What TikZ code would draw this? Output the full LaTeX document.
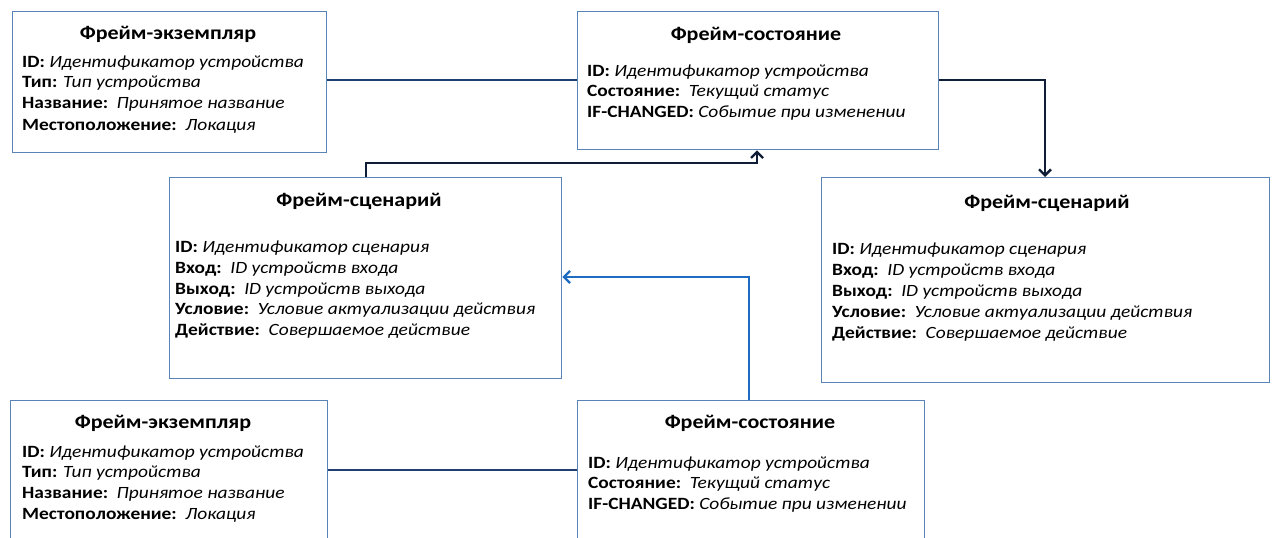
\documentclass[tikz,border=0pt]{standalone}
\usepackage{fontspec}
\setmainfont{Carlito}[FakeStretch=1.13]
\usetikzlibrary{arrows.meta}
\definecolor{boxc}{HTML}{5A84B8}
\definecolor{navy}{HTML}{0F1E36}
\definecolor{lblue}{HTML}{1E6CC0}
\definecolor{mnavy}{HTML}{1F3F73}
\begin{document}
\begin{tikzpicture}[x=1pt,y=-1pt,
 frame/.style={draw=boxc, line width=1.3pt, fill=white, anchor=north west, inner sep=0},
 ttl/.style={font=\fontsize{19.5}{22}\selectfont\bfseries, inner sep=0},
 ln/.style={font=\fontsize{17.2}{20}\selectfont, anchor=mid west, inner sep=0, yshift=-3pt},
 conn/.style={line width=2.8pt, draw=navy},
 arr/.style={-{Straight Barb[length=6pt,width=12pt,line width=2.4pt]}}
]
\useasboundingbox (0,0) rectangle (1275,538);
\clip (0,0) rectangle (1275,538);
\fill[white] (0,0) rectangle (1275,538);

% boxes
\node[frame, minimum width=314pt, minimum height=141pt] (A) at (12,11) {};
\node[frame, minimum width=361pt, minimum height=138pt] (B) at (577,11) {};
\node[frame, minimum width=392pt, minimum height=201pt] (C) at (169,177) {};
\node[frame, minimum width=448pt, minimum height=205pt] (D) at (821,177) {};
\node[frame, minimum width=317pt, minimum height=200pt] (E) at (10,400) {};
\node[frame, minimum width=347pt, minimum height=200pt] (F) at (577,400) {};

% box A text
\node[ttl] (At) at (168,34) {Фрейм-экземпляр};
\node[ln] (A1) at (22,62) {\textbf{ID:} \textit{Идентификатор устройства}};
\node[ln] (A2) at (22,82) {\textbf{Тип:} \textit{Тип устройства}};
\node[ln] (A3) at (22,103) {\textbf{Название:}\enspace\textit{Принятое название}};
\node[ln] (A4) at (22,125) {\textbf{Местоположение:}\enspace\textit{Локация}};

% box B text
\node[ttl] (Bt) at (756,35) {Фрейм-состояние};
\node[ln] (B1) at (587,71) {\textbf{ID:} \textit{Идентификатор устройства}};
\node[ln] (B2) at (587,91) {\textbf{Состояние:}\enspace\textit{Текущий статус}};
\node[ln] (B3) at (587,112) {\textbf{IF-CHANGED:} \textit{Событие при изменении}};

% box C text
\node[ttl] (Ct) at (359,201) {Фрейм-сценарий};
\node[ln] (C1) at (175,247) {\textbf{ID:} \textit{Идентификатор сценария}};
\node[ln] (C2) at (175,268) {\textbf{Вход:}\enspace\textit{ID устройств входа}};
\node[ln] (C3) at (175,289) {\textbf{Выход:}\enspace\textit{ID устройств выхода}};
\node[ln] (C4) at (175,309) {\textbf{Условие:}\enspace\textit{Условие актуализации действия}};
\node[ln] (C5) at (175,330) {\textbf{Действие:}\enspace\textit{Совершаемое действие}};

% box D text
\node[ttl] (Dt) at (1047,203) {Фрейм-сценарий};
\node[ln] (D1) at (832,249) {\textbf{ID:} \textit{Идентификатор сценария}};
\node[ln] (D2) at (832,270) {\textbf{Вход:}\enspace\textit{ID устройств входа}};
\node[ln] (D3) at (832,291) {\textbf{Выход:}\enspace\textit{ID устройств выхода}};
\node[ln] (D4) at (832,312) {\textbf{Условие:}\enspace\textit{Условие актуализации действия}};
\node[ln] (D5) at (832,333) {\textbf{Действие:}\enspace\textit{Совершаемое действие}};

% box E text
\node[ttl] (Et) at (163,423) {Фрейм-экземпляр};
\node[ln] (E1) at (22,452) {\textbf{ID:} \textit{Идентификатор устройства}};
\node[ln] (E2) at (22,472) {\textbf{Тип:} \textit{Тип устройства}};
\node[ln] (E3) at (22,493) {\textbf{Название:}\enspace\textit{Принятое название}};
\node[ln] (E4) at (22,514) {\textbf{Местоположение:}\enspace\textit{Локация}};

% box F text
\node[ttl] (Ft) at (750,423) {Фрейм-состояние};
\node[ln] (F1) at (588,463) {\textbf{ID:} \textit{Идентификатор устройства}};
\node[ln] (F2) at (588,483) {\textbf{Состояние:}\enspace\textit{Текущий статус}};
\node[ln] (F3) at (588,504) {\textbf{IF-CHANGED:} \textit{Событие при изменении}};

% connectors
\coordinate (k1) at (0,80);
\draw[conn, draw=mnavy] (A.east |- k1) -- (B.west |- k1);

\coordinate (k2) at (1045,80);
\draw[conn, arr] (B.east |- k2) -- (k2) -- (k2 |- D.north);

\coordinate (k3a) at (366,163);
\coordinate (k3b) at (757,163);
\draw[conn, arr] (k3a |- C.north) -- (k3a) -- (k3b) -- (k3b |- B.south);

\coordinate (k4) at (749,277);
\draw[conn, draw=lblue, arr] (k4 |- F.north) -- (k4) -- (k4 -| C.east);

\coordinate (k5) at (0,470);
\draw[conn, draw=mnavy] (E.east |- k5) -- (F.west |- k5);
\end{tikzpicture}
\end{document}
